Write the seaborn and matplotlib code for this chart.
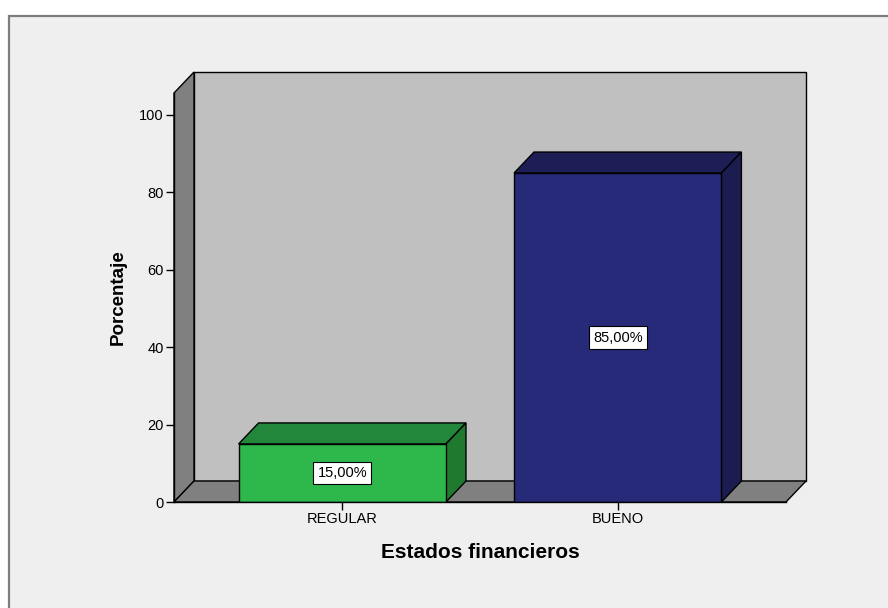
import matplotlib
matplotlib.use("Agg")
import matplotlib.pyplot as plt
from matplotlib.patches import Polygon, Rectangle
import seaborn as sns
import pandas as pd

# Data
categories = ["REGULAR", "BUENO"]
percentages = [15.0, 85.0]
y_ticks = [0, 20, 40, 60, 80, 100]

front_colors = ["#2eb84c", "#272a78"]
top_colors = ["#22873a", "#1c1e55"]
side_colors = ["#1f7a30", "#1b1d50"]

sns.set_theme(style="white")
plt.rcParams["font.family"] = ["Liberation Sans", "DejaVu Sans"]
plt.rcParams["text.color"] = "black"
plt.rcParams["axes.labelcolor"] = "black"

W, H = 888, 608
fig = plt.figure(figsize=(W / 100, H / 100), dpi=100)
fig.patch.set_facecolor("white")

# Chart frame panel (drawn beneath the axes)
fig.patches.append(Rectangle((9 / W, -0.01), 1.0, (H - 16) / H + 0.01,
                             transform=fig.transFigure, facecolor="#efefef",
                             edgecolor="#7d7d7d", linewidth=1.6, zorder=-5))

# Front plane of the 3D box, in pixels
x0, x1 = 174, 786
y_bottom, y_top = 502, 93
ax = fig.add_axes([x0 / W, (H - y_bottom) / H, (x1 - x0) / W, (y_bottom - y_top) / H])
ax.set_facecolor("none")

px_per_unit_y = (502 - 115) / 100.0
ymax = (y_bottom - y_top) / px_per_unit_y

df = pd.DataFrame({"cat": categories, "pct": percentages})
sns.barplot(data=df, x="cat", y="pct", hue="cat", palette=front_colors,
            saturation=1, width=0.753, edgecolor="black", linewidth=1.0,
            legend=False, ax=ax, zorder=5)
ax.set_xlim(-0.611, 1.611)
ax.set_ylim(0, ymax)

# Depth offset converted to data units
fig.canvas.draw()
p00 = ax.transData.transform((0, 0))
p11 = ax.transData.transform((1, 1))
dx = 20.0 / (p11[0] - p00[0])
dy = 21.0 / (p11[1] - p00[1])

xl, xr = -0.611, 1.611
wall_kw = dict(closed=True, edgecolor="black", linewidth=1.0, clip_on=False)
# Back wall
ax.add_patch(Polygon([(xl + dx, dy), (xr + dx, dy), (xr + dx, ymax + dy), (xl + dx, ymax + dy)],
                     facecolor="#c0c0c0", zorder=1, **wall_kw))
# Left wall
ax.add_patch(Polygon([(xl, 0), (xl, ymax), (xl + dx, ymax + dy), (xl + dx, dy)],
                     facecolor="#808080", zorder=2, **wall_kw))
# Floor
ax.add_patch(Polygon([(xl, 0), (xr, 0), (xr + dx, dy), (xl + dx, dy)],
                     facecolor="#808080", zorder=2, **wall_kw))

# Bar tops and sides
half = 0.753 / 2
for i, v in enumerate(percentages):
    left, right = i - half, i + half
    ax.add_patch(Polygon([(left, v), (right, v), (right + dx, v + dy), (left + dx, v + dy)],
                         facecolor=top_colors[i], zorder=4, **wall_kw))
    ax.add_patch(Polygon([(right, 0), (right + dx, dy), (right + dx, v + dy), (right, v)],
                         facecolor=side_colors[i], zorder=4, **wall_kw))
    label = f"{v:.2f}".replace(".", ",") + "%"
    ax.text(i, v / 2, label, ha="center", va="center", fontsize=10.5, color="black",
            zorder=10, bbox=dict(boxstyle="square,pad=0.28", facecolor="white",
                                 edgecolor="black", linewidth=0.8))

for side in ["top", "right"]:
    ax.spines[side].set_visible(False)
for side in ["left", "bottom"]:
    ax.spines[side].set_color("black")
    ax.spines[side].set_linewidth(1.0)
    ax.spines[side].set_zorder(6)

ax.set_yticks(y_ticks)
ax.tick_params(axis="both", direction="out", length=5.8, width=1.0, color="black",
               labelsize=10.5, labelcolor="black", pad=1.5, left=True, bottom=True)
ax.grid(False)

ax.set_xlabel("Estados financieros", fontsize=15, fontweight="bold", labelpad=12,
              color="black")
ax.set_ylabel("Porcentaje", fontsize=13.5, fontweight="bold", labelpad=9,
              color="black")

fig.savefig("out.png", dpi=100)
